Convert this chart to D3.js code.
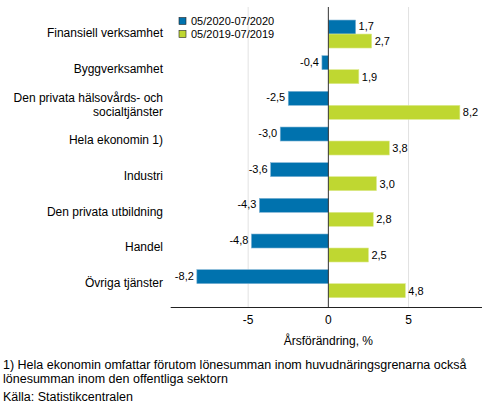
<!DOCTYPE html>
<html>
<head>
<meta charset="utf-8">
<script src="https://cdn.jsdelivr.net/npm/d3@7"></script>
<style>
body { margin: 0; background: #fff; }
text { font-family: "Liberation Sans", Arial, sans-serif; fill: #000; }
</style>
</head>
<body>
<div id="chart-area"></div>
<script>
// data
var categories = ["Finansiell verksamhet", "Byggverksamhet", "Den privata hälsovårds- och socialtjänster",
    "Hela ekonomin 1)", "Industri", "Den privata utbildning", "Handel", "Övriga tjänster"];
var seriesNames = ["05/2020-07/2020", "05/2019-07/2019"];
var values2020 = [1.7, -0.4, -2.5, -3.0, -3.6, -4.3, -4.8, -8.2];
var values2019 = [2.7, 1.9, 8.2, 3.8, 3.0, 2.8, 2.5, 4.8];
var xTicks = [-5, 0, 5];

var width = 493;
var height = 416;
var colors = ["#0072ae", "#bfd731"];
var barH = 14;

var svg = d3.select("#chart-area")
  .append("svg")
    .attr("width", width)
    .attr("height", height);

var x = d3.scaleLinear()
    .domain([-9.83, 9.58])
    .range([170.7, 482]);

var y = d3.scaleBand()
    .domain(categories)
    .range([16.2, 301.5])
    .padding(0);

var axisY = 307.5;
var topY = 7;

// gridlines
svg.selectAll(".grid")
  .data(xTicks.filter(function(d) { return d !== 0; }))
  .enter().append("line")
    .attr("class", "grid")
    .attr("x1", function(d) { return x(d); })
    .attr("x2", function(d) { return x(d); })
    .attr("y1", topY)
    .attr("y2", axisY)
    .attr("stroke", "#e2e2e2")
    .attr("stroke-width", 1);

var rows = categories.map(function(c, i) {
    return { cat: c, v2020: values2020[i], v2019: values2019[i] };
});

function center(d) { return y(d.cat) + y.bandwidth() / 2; }

// bars 2020
svg.selectAll(".bar2020")
  .data(rows)
  .enter().append("rect")
    .attr("class", "bar2020")
    .attr("x", function(d) { return x(Math.min(0, d.v2020)); })
    .attr("y", function(d) { return center(d) - barH; })
    .attr("width", function(d) { return Math.abs(x(d.v2020) - x(0)); })
    .attr("height", barH)
    .attr("fill", colors[0])
    .attr("stroke", "#7fb3d4")
    .attr("stroke-width", 0.6);

// bars 2019
svg.selectAll(".bar2019")
  .data(rows)
  .enter().append("rect")
    .attr("class", "bar2019")
    .attr("x", function(d) { return x(Math.min(0, d.v2019)); })
    .attr("y", function(d) { return center(d); })
    .attr("width", function(d) { return Math.abs(x(d.v2019) - x(0)); })
    .attr("height", barH)
    .attr("fill", colors[1])
    .attr("stroke", "#dde98f")
    .attr("stroke-width", 0.6);

var fmt = function(v) { return v.toFixed(1).replace(".", ","); };

// value labels
function addLabels(key, offset) {
    svg.selectAll(".lbl" + key)
      .data(rows)
      .enter().append("text")
        .attr("class", "lbl" + key)
        .attr("x", function(d) { return x(d[key]) + (d[key] < 0 ? -3 : 3); })
        .attr("y", function(d) { return center(d) + offset; })
        .attr("dy", "0.35em")
        .attr("text-anchor", function(d) { return d[key] < 0 ? "end" : "start"; })
        .attr("font-size", "11px")
        .text(function(d) { return fmt(d[key]); });
}
addLabels("v2020", -barH / 2 - 1);
addLabels("v2019", barH / 2);

// zero line
svg.append("line")
    .attr("x1", x(0)).attr("x2", x(0))
    .attr("y1", topY).attr("y2", axisY)
    .attr("stroke", "#333")
    .attr("stroke-width", 1);

// x axis
svg.append("line")
    .attr("x1", x.range()[0]).attr("x2", x.range()[1])
    .attr("y1", axisY).attr("y2", axisY)
    .attr("stroke", "#222")
    .attr("stroke-width", 1);

svg.selectAll(".xtick")
  .data(xTicks)
  .enter().append("text")
    .attr("class", "xtick")
    .attr("x", function(d) { return x(d); })
    .attr("y", 320)
    .attr("dy", "0.35em")
    .attr("text-anchor", "middle")
    .attr("font-size", "12px")
    .text(function(d) { return d < 0 ? "-" + Math.abs(d) : d; });

svg.append("text")
    .attr("x", x(0))
    .attr("y", 341)
    .attr("dy", "0.35em")
    .attr("text-anchor", "middle")
    .attr("font-size", "12px")
    .text("Årsförändring, %");

// category labels
svg.selectAll(".cat")
  .data(categories)
  .enter().append("text")
    .attr("class", "cat")
    .attr("x", 163)
    .attr("y", function(d) { return y(d) + y.bandwidth() / 2 - 1; })
    .attr("text-anchor", "end")
    .attr("font-size", "12px")
    .each(function(d) {
        var t = d3.select(this);
        var lines = d === "Den privata hälsovårds- och socialtjänster"
            ? ["Den privata hälsovårds- och", "socialtjänster"] : [d];
        var start = -(lines.length - 1) * 14 / 2;
        lines.forEach(function(l, i) {
            t.append("tspan")
                .attr("x", 163)
                .attr("dy", i === 0 ? (start / 12 + 0.35) + "em" : "14px")
                .text(l);
        });
    });

// legend
var legend = svg.selectAll(".legend")
  .data(seriesNames)
  .enter().append("g")
    .attr("class", "legend")
    .attr("transform", function(d, i) { return "translate(179," + (21 + i * 13) + ")"; });

legend.append("rect")
    .attr("x", 0).attr("y", -3.5)
    .attr("width", 7).attr("height", 7)
    .attr("fill", function(d, i) { return colors[i]; })
    .attr("stroke", "#222")
    .attr("stroke-width", 0.6);

legend.append("text")
    .attr("x", 12)
    .attr("y", 0)
    .attr("dy", "0.35em")
    .attr("font-size", "11px")
    .text(function(d) { return d; });

// footnotes
var notes = ["1) Hela ekonomin omfattar förutom lönesumman inom huvudnäringsgrenarna också",
    "lönesumman inom den offentliga sektorn"];
svg.selectAll(".note")
  .data(notes)
  .enter().append("text")
    .attr("class", "note")
    .attr("x", 3)
    .attr("y", function(d, i) { return 369 + i * 13.5; })
    .attr("font-size", "12.5px")
    .text(function(d) { return d; });

svg.append("text")
    .attr("x", 3)
    .attr("y", 401)
    .attr("font-size", "12.5px")
    .text("Källa: Statistikcentralen");
</script>
</body>
</html>
